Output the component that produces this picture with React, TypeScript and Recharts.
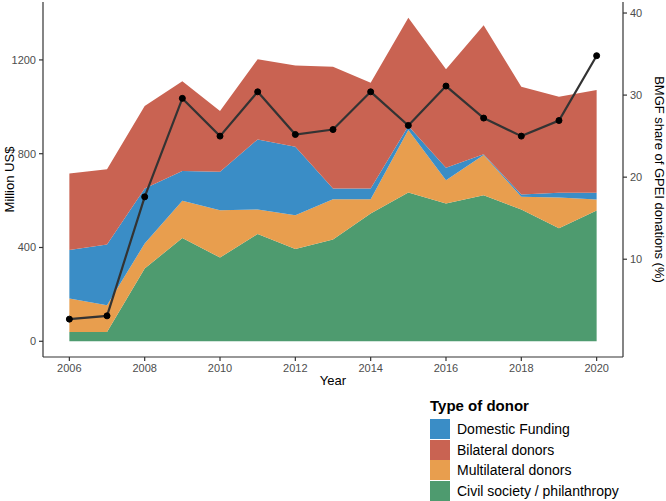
import React from 'react';
import { ComposedChart, Area, Line, XAxis, YAxis, Label } from 'recharts';

// values (Million US$ per donor type, stacked)
const years = [2006, 2007, 2008, 2009, 2010, 2011, 2012, 2013, 2014, 2015, 2016, 2017, 2018, 2019, 2020];
const civilSociety = [40, 40, 310, 441, 357, 458, 394, 434, 545, 635, 588, 623, 562, 482, 558];
const multilateral = [142, 114, 107, 158, 202, 104, 144, 172, 61, 266, 99, 171, 54, 131, 47];
const domestic = [207, 259, 235, 127, 164, 299, 292, 46, 46, 17, 53, 4, 10, 20, 28];
const bilateral = [327, 321, 351, 383, 259, 342, 346, 519, 451, 462, 420, 550, 460, 410, 439];
// BMGF share of GPEI donations (%)
const bmgfShare = [2.7, 3.1, 17.6, 29.6, 25.0, 30.4, 25.2, 25.8, 30.4, 26.3, 31.1, 27.2, 25.0, 26.9, 34.8];

const xTicks = [2006, 2008, 2010, 2012, 2014, 2016, 2018, 2020];
const leftTicks = [0, 400, 800, 1200];
const rightTicks = [10, 20, 30, 40];

const legendItems = [
  { name: 'Domestic Funding', color: '#3a8dc6' },
  { name: 'Bilateral donors', color: '#c96352' },
  { name: 'Multilateral donors', color: '#e89e4e' },
  { name: 'Civil society / philanthropy', color: '#4e9b6f' },
];

const data = years.map((year, i) => ({
  year,
  civil: civilSociety[i],
  multi: multilateral[i],
  domestic: domestic[i],
  bilateral: bilateral[i],
  share: bmgfShare[i],
}));

const font = 'Liberation Sans, Arial, sans-serif';
const tickStyle = { fill: '#4d4d4d', fontSize: 11, fontFamily: font };

const DonorLegend = () => (
  <div style={{ position: 'absolute', left: 430, top: 397, fontFamily: font, color: '#000' }}>
    <div style={{ fontWeight: 'bold', fontSize: 15, marginBottom: 5 }}>Type of donor</div>
    {legendItems.map((item) => (
      <div key={item.name} style={{ display: 'flex', alignItems: 'center', height: 20.5 }}>
        <div style={{ width: 20, height: 20, background: item.color, marginRight: 7 }} />
        <span style={{ fontSize: 14 }}>{item.name}</span>
      </div>
    ))}
  </div>
);

export default function App() {
  return (
    <div style={{ position: 'absolute', left: 0, top: 0, width: 666, height: 501, background: '#fff' }}>
      <ComposedChart width={666} height={501} data={data} margin={{ top: 2, right: 0, bottom: 114, left: 0 }}>
        <XAxis
          dataKey="year"
          type="number"
          domain={[2005.3, 2020.7]}
          ticks={xTicks}
          allowDataOverflow
          height={30}
          tick={tickStyle}
          tickSize={4}
          tickMargin={3}
          stroke="#333"
          strokeWidth={1.2}
        >
          <Label value="Year" position="insideBottom" offset={2} style={{ fill: '#000', fontSize: 13, fontFamily: font }} />
        </XAxis>
        <YAxis
          yAxisId="left"
          domain={[-67, 1447]}
          ticks={leftTicks}
          allowDataOverflow
          width={43}
          tick={tickStyle}
          tickSize={4}
          tickMargin={3}
          stroke="#333"
          strokeWidth={1.2}
        >
          <Label
            value="Million US$"
            angle={-90}
            position="insideLeft"
            offset={9}
            style={{ fill: '#000', fontSize: 13, fontFamily: font, textAnchor: 'middle' }}
          />
        </YAxis>
        <YAxis
          yAxisId="right"
          orientation="right"
          domain={[-67 / 35, 1447 / 35]}
          ticks={rightTicks}
          allowDataOverflow
          width={43}
          tick={tickStyle}
          tickSize={4}
          tickMargin={3}
          stroke="#333"
          strokeWidth={1.2}
        >
          <Label
            value="BMGF share of GPEI donations (%)"
            angle={90}
            position="insideRight"
            offset={6}
            style={{ fill: '#000', fontSize: 13, fontFamily: font, textAnchor: 'middle' }}
          />
        </YAxis>
        <Area yAxisId="left" type="linear" dataKey="civil" stackId="1" stroke="none" fill="#4e9b6f" fillOpacity={1} isAnimationActive={false} />
        <Area yAxisId="left" type="linear" dataKey="multi" stackId="1" stroke="none" fill="#e89e4e" fillOpacity={1} isAnimationActive={false} />
        <Area yAxisId="left" type="linear" dataKey="domestic" stackId="1" stroke="none" fill="#3a8dc6" fillOpacity={1} isAnimationActive={false} />
        <Area yAxisId="left" type="linear" dataKey="bilateral" stackId="1" stroke="none" fill="#c96352" fillOpacity={1} isAnimationActive={false} />
        <Line
          yAxisId="right"
          type="linear"
          dataKey="share"
          stroke="#333"
          strokeWidth={2.2}
          dot={{ r: 3, fill: '#000', stroke: '#000', strokeWidth: 1 }}
          activeDot={false}
          isAnimationActive={false}
        />
      </ComposedChart>
      <DonorLegend />
    </div>
  );
}
